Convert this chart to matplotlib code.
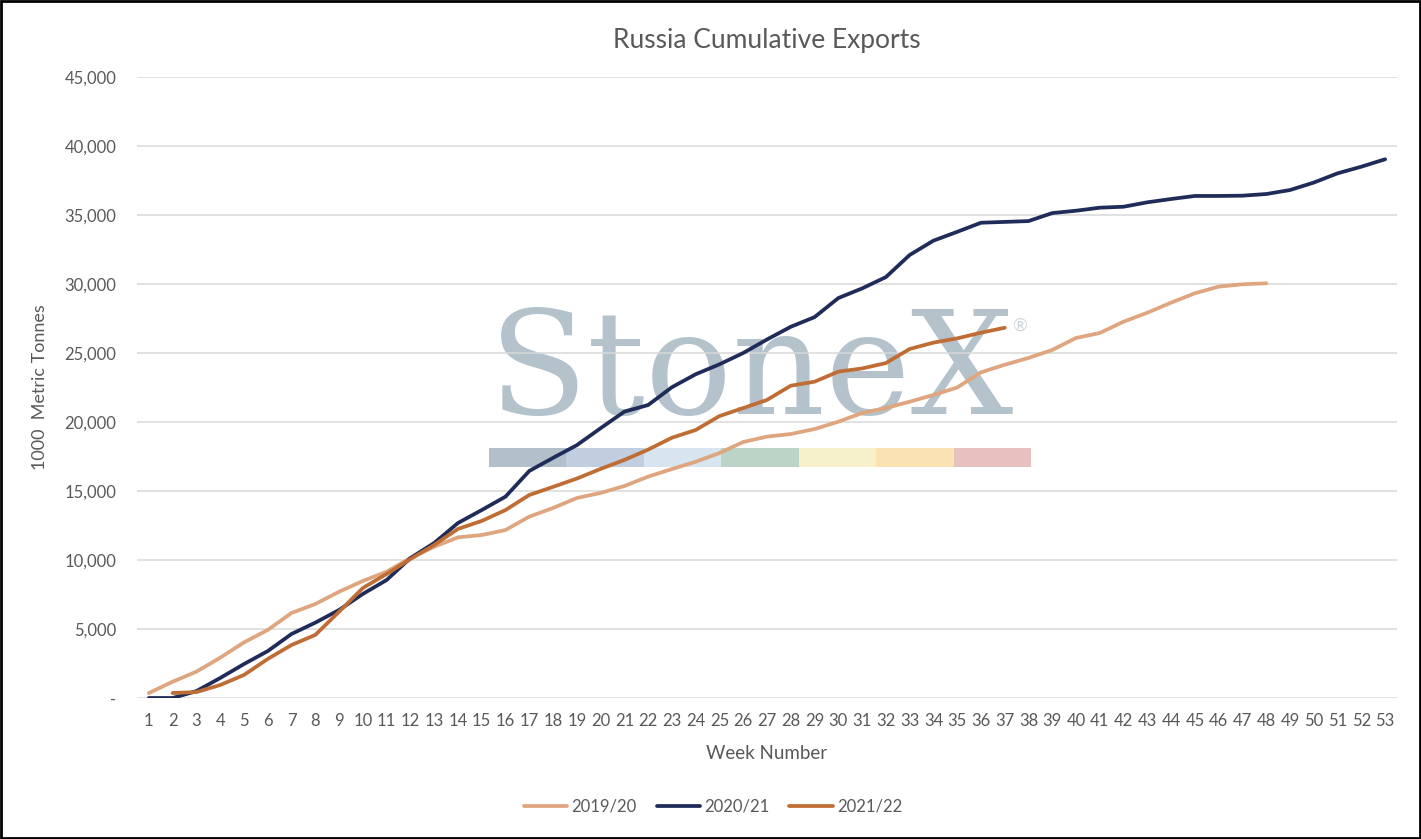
import matplotlib
matplotlib.use("Agg")
import matplotlib.pyplot as plt
from matplotlib.patches import Rectangle
from matplotlib.ticker import FuncFormatter

# week numbers
weeks = list(range(1, 54))

# cumulative exports, 1000 metric tonnes
exp_1920 = [360, 1180, 1910, 2920, 4030, 4930, 6160, 6810, 7700, 8480,
            9150, 10140, 10960, 11640, 11810, 12170, 13140, 13770, 14490, 14860,
            15360, 16040, 16590, 17120, 17750, 18550, 18940, 19130, 19490, 20020,
            20650, 21010, 21470, 21960, 22500, 23600, 24150, 24640, 25220, 26090,
            26450, 27270, 27920, 28650, 29330, 29810, 29980, 30050]
exp_2021 = [0, 0, 500, 1450, 2460, 3400, 4640, 5460, 6380, 7540,
            8550, 10140, 11230, 12680, 13620, 14590, 16450, 17400, 18320, 19550,
            20750, 21230, 22520, 23460, 24180, 25000, 25980, 26900, 27600, 28980,
            29680, 30500, 32100, 33140, 33780, 34440, 34500, 34560, 35140, 35310,
            35530, 35600, 35920, 36160, 36380, 36380, 36400, 36520, 36810, 37350,
            38020, 38500, 39040]
exp_2122 = [360, 430, 940, 1670, 2830, 3840, 4570, 6250, 7970, 8990,
            10070, 11090, 12250, 12830, 13620, 14710, 15300, 15900, 16600, 17250,
            18000, 18860, 19420, 20430, 21010, 21600, 22630, 22920, 23650, 23880,
            24270, 25290, 25750, 26060, 26470, 26830]
weeks_2122 = weeks[1:1 + len(exp_2122)]

logo_colors = ['#b3c0c9', '#c0cedf', '#d6e5f0', '#bcd3c8', '#f6f1cb', '#fae2b3', '#e8c0c0']

plt.rcParams['font.family'] = ['Lato', 'DejaVu Sans']
txt = '#595959'

fig = plt.figure(figsize=(14.21, 8.39), dpi=100)
ax = fig.add_axes([137/1421, 1 - 698/839, (1397-137)/1421, (698-77)/839])

# StoneX watermark behind everything
ax.text(489/1421, 1 - 414/839, 'StoneX', transform=fig.transFigure, family='DejaVu Serif',
        fontsize=104, color='#b4c2cc', ha='left', va='baseline', zorder=0.1)
ax.text(1020/1421, 1 - 326/839, '®', transform=fig.transFigure, fontsize=13,
        color='#ccd5dd', ha='center', va='center', zorder=0.1)
seg = (1031 - 489) / 7
for i, c in enumerate(logo_colors):
    ax.add_patch(Rectangle(((489 + i*seg)/1421, 1 - 467/839), seg/1421, 19/839,
                           transform=fig.transFigure, color=c, zorder=0.1, lw=0))

ax.plot(weeks[:len(exp_1920)], exp_1920, color='#dea57e', lw=2.7, label='2019/20',
        solid_capstyle='round', solid_joinstyle='round', zorder=3)
ax.plot(weeks, exp_2021, color='#1f2b58', lw=2.7, label='2020/21',
        solid_capstyle='round', solid_joinstyle='round', zorder=3)
ax.plot(weeks_2122, exp_2122, color='#bf6d35', lw=2.7, label='2021/22',
        solid_capstyle='round', solid_joinstyle='round', zorder=3)

ax.set_xlim(0.5, 53.5)
ax.set_ylim(0, 45000)
ax.set_xticks(weeks)
ax.set_yticks(range(0, 45001, 5000))
ax.yaxis.set_major_formatter(FuncFormatter(lambda v, p: '-' if v == 0 else f'{int(v):,}'))
ax.grid(axis='y', color='#d9d9d9', lw=1.1)
ax.set_axisbelow(True)
for s in ax.spines.values():
    s.set_visible(False)
ax.tick_params(axis='both', length=0, labelsize=12, labelcolor=txt)
ax.tick_params(axis='x', pad=11)
ax.tick_params(axis='y', pad=15)

ax.set_title('Russia Cumulative Exports', fontsize=19, color=txt, pad=21)
ax.set_xlabel('Week Number', fontsize=13.5, color=txt, labelpad=11)
ax.set_ylabel('1000  Metric Tonnes', fontsize=13, color=txt, labelpad=12)

fig.legend(loc='center', bbox_to_anchor=(713/1421, 1 - 807/839), ncol=3, frameon=False,
           fontsize=12, labelcolor=txt, handlelength=2.6, columnspacing=1.2,
           handletextpad=0.25)

# outer border
fig.patches.append(Rectangle((0.001, 0.001), 0.998, 0.998, transform=fig.transFigure,
                             fill=False, edgecolor='black', lw=2, zorder=10))

fig.savefig('out.png', dpi=100)
